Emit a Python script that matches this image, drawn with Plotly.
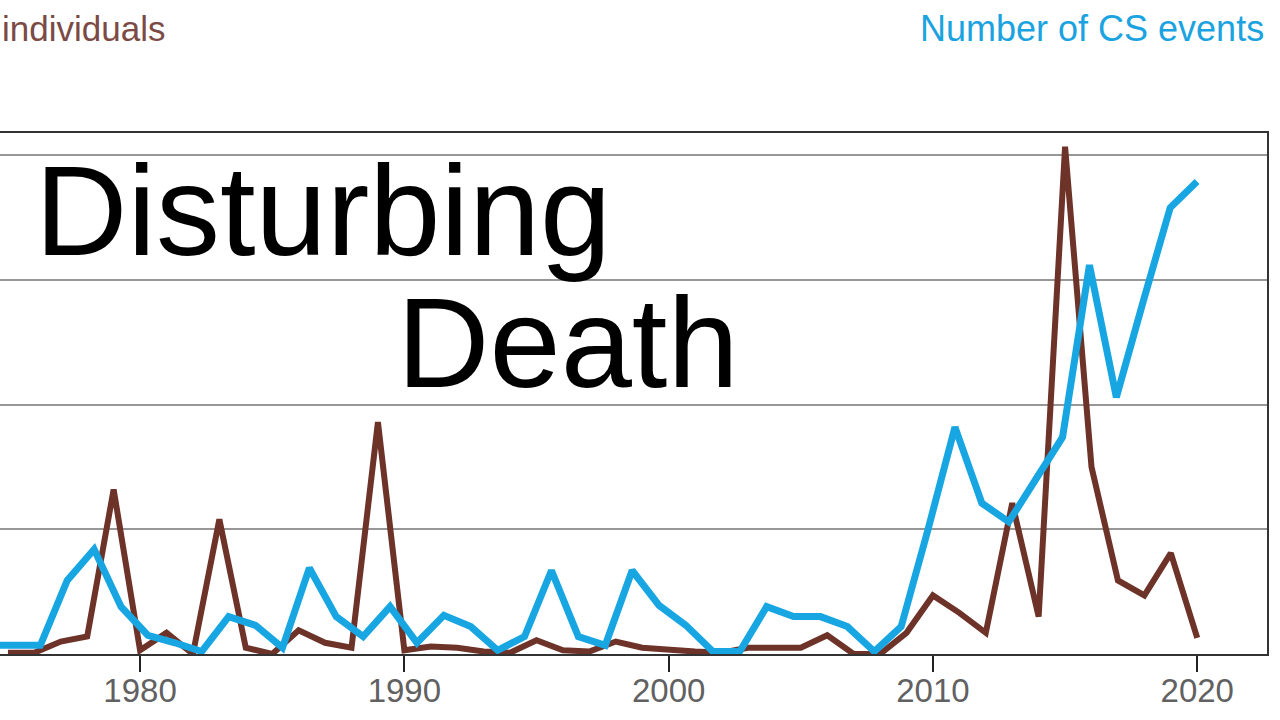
import plotly.graph_objects as go

# years for each series
years_ind = list(range(1975, 2021))
years_cs = list(range(1975, 2021))

# number of individuals (brown, left axis)
individuals = [0.5, 0.5, 5, 7, 66, 1.5, 8.5, 0, 54, 2.5, 0, 9.5, 4.5, 2.5, 93, 1.5,
               3, 2.5, 1, 0.5, 5.5, 1.5, 1, 5, 2.5, 1.5, 1, 0.5, 2.5, 2.5,
               2.5, 7.5, 0, 0, 8.5, 23.5, 16.5, 8.5, 60.5, 15, 203.5, 75, 29.5, 23.5, 40.5, 6.5]

# number of CS events (blue, right axis)
cs_events = [0.7, 0.7, 0.7, 5.9, 8.4, 3.8, 1.5, 0.9, 0.2, 3.0, 2.3, 0.5, 6.9, 3.0, 1.4, 3.8,
             0.9, 3.1, 2.2, 0.3, 1.4, 6.7, 1.4, 0.7, 6.7, 3.9, 2.3, 0.2, 0.2, 3.8,
             3.0, 3.0, 2.2, 0.2, 2.2, 10.0, 18.2, 12.1, 10.6, 14.0, 17.4, 31.2, 20.6, 28.3, 35.8, 37.9]

x_ticks = [1980, 1990, 2000, 2010, 2020]

BROWN = "#6d3329"
BLUE = "#17a6e2"

fig = go.Figure()

fig.add_trace(go.Scatter(x=years_ind, y=individuals, mode="lines", name="individuals",
                         line=dict(color=BROWN, width=6), xaxis="x", yaxis="y"))
fig.add_trace(go.Scatter(x=years_cs, y=cs_events, mode="lines", name="Number of CS events",
                         line=dict(color=BLUE, width=7), xaxis="x2", yaxis="y2"))

fig.update_layout(
    width=1280, height=720,
    margin=dict(l=0, r=13, t=133, b=66, autoexpand=False),
    paper_bgcolor="white", plot_bgcolor="white",
    showlegend=False,
    font=dict(family="Liberation Sans, Arial, sans-serif"),
    xaxis=dict(range=[1974.70, 2022.64], tickvals=x_ticks, ticks="outside", ticklen=16,
               tickwidth=2, tickcolor="#222", showgrid=False, zeroline=False,
               showline=True, linecolor="#333", linewidth=2, mirror=True,
               ticklabelstandoff=-10,
               tickfont=dict(size=33, color="#616161")),
    xaxis2=dict(range=[1975.50, 2022.60], overlaying="x", visible=False),
    yaxis=dict(range=[0, 209], dtick=50, showgrid=True, gridcolor="#979797", gridwidth=2,
               showticklabels=False, zeroline=False, showline=False, ticks=""),
    yaxis2=dict(range=[0, 41.8], overlaying="y", side="right", showgrid=False,
                showticklabels=False, zeroline=False, showline=True,
                linecolor="#333", linewidth=2, ticks=""),
)

fig.add_annotation(text="individuals", xref="paper", yref="paper", x=0.0, y=1.2015,
                   xanchor="left", yanchor="middle", showarrow=False,
                   font=dict(size=35, color="#7b4a45"))
fig.add_annotation(text="Number of CS events", xref="paper", yref="paper", x=0.999, y=1.2015,
                   xanchor="right", yanchor="middle", showarrow=False,
                   font=dict(size=36, color="#1aa3e0"))

fig.add_annotation(text="Disturbing", xref="paper", yref="paper", x=0.026, y=0.851,
                   xanchor="left", yanchor="middle", showarrow=False,
                   font=dict(size=128, color="black"))
fig.add_annotation(text="Death", xref="paper", yref="paper", x=0.312, y=0.597,
                   xanchor="left", yanchor="middle", showarrow=False,
                   font=dict(size=128, color="black"))

fig.write_html("out.html", config={"displayModeBar": False},
               post_script="document.body.style.margin='0';")
